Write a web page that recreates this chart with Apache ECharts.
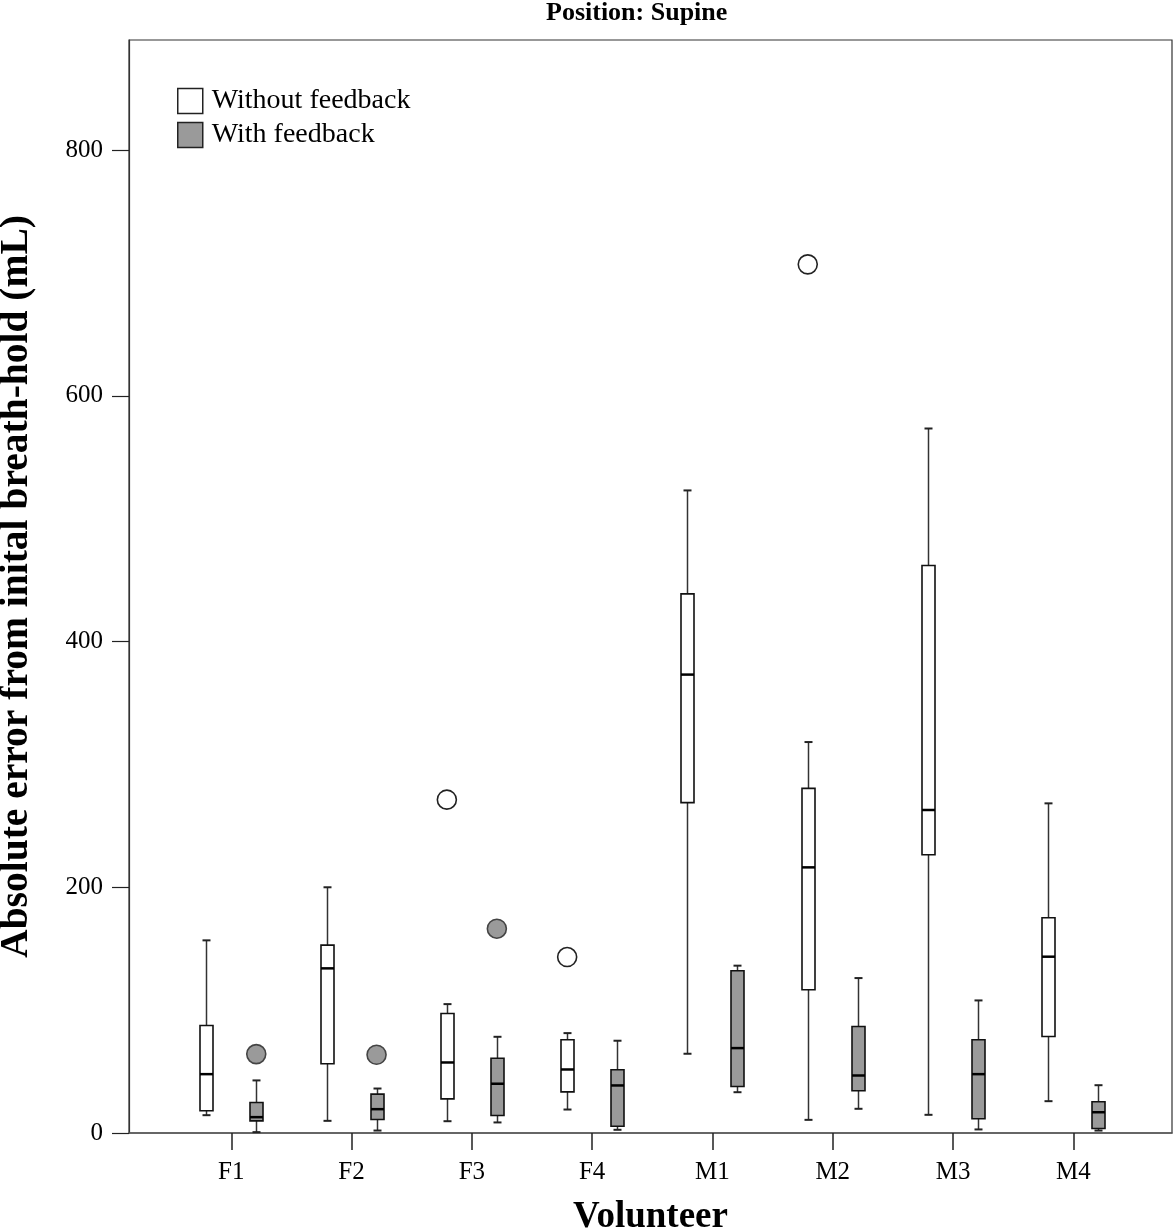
<!DOCTYPE html>
<html>
<head>
<meta charset="utf-8">
<script src="https://cdn.jsdelivr.net/npm/echarts@6/dist/echarts.min.js"></script>
<style>
html,body{margin:0;padding:0;background:#fff;}
#chart{width:1176px;height:1229px;}
</style>
</head>
<body>
<div id="chart"></div>
<script>
// ---- data ----
const categories = ['F1', 'F2', 'F3', 'F4', 'M1', 'M2', 'M3', 'M4'];
const yTicks = [0, 200, 400, 600, 800];
// [min, Q1, median, Q3, max]
const withoutFeedback = [
  [14.5, 18.1, 47.9, 87.5, 156.8],
  [9.9, 56.4, 134.0, 152.9, 200.0],
  [9.6, 27.8, 57.4, 97.3, 104.9],
  [19.1, 33.5, 51.7, 75.9, 81.3],
  [64.5, 268.9, 373.1, 438.8, 523.0],
  [10.7, 116.6, 216.2, 280.5, 318.2],
  [14.8, 226.5, 262.9, 461.9, 573.4],
  [25.9, 78.6, 143.5, 175.2, 268.3]
];
const withFeedback = [
  [0.7, 9.9, 12.9, 24.8, 42.8],
  [2.0, 11.0, 19.4, 31.6, 36.2],
  [8.6, 14.3, 40.1, 60.9, 78.3],
  [2.6, 5.5, 38.7, 51.5, 75.1],
  [33.2, 37.9, 69.1, 132.1, 136.2],
  [19.7, 34.4, 46.8, 86.7, 126.1],
  [2.9, 11.6, 47.9, 75.9, 107.9],
  [2.0, 3.7, 16.9, 25.4, 38.9]
];
// outliers: [category index, value]
const withoutOutliers = [[2, 271.3], [3, 143.2], [5, 707.0]];
const withOutliers = [[0, 64.2], [1, 63.7], [2, 166.3]];

// ---- chart ----
const FONT = '"Liberation Serif", "Times New Roman", serif';
const GRAY = '#9a9a9a';
const OFFSET = 25;

function makeRender(offset, fill) {
  return function (params, api) {
    const x = api.value(0);
    const pMin = api.coord([x, api.value(1)]);
    const pQ1 = api.coord([x, api.value(2)]);
    const pMed = api.coord([x, api.value(3)]);
    const pQ3 = api.coord([x, api.value(4)]);
    const pMax = api.coord([x, api.value(5)]);
    const cx = Math.round(pMin[0] + offset) + 0.5;
    const hw = 6.5, cw = 4;
    const wStyle = {stroke: '#333', lineWidth: 1.5};
    return {
      type: 'group',
      children: [
        {type: 'line', shape: {x1: cx, y1: pMax[1], x2: cx, y2: pQ3[1]}, style: wStyle},
        {type: 'line', shape: {x1: cx, y1: pQ1[1], x2: cx, y2: pMin[1]}, style: wStyle},
        {type: 'line', shape: {x1: cx - cw, y1: pMax[1], x2: cx + cw, y2: pMax[1]}, style: {stroke: '#222', lineWidth: 2}},
        {type: 'line', shape: {x1: cx - cw, y1: pMin[1], x2: cx + cw, y2: pMin[1]}, style: {stroke: '#222', lineWidth: 2}},
        {type: 'rect', shape: {x: cx - hw, y: pQ3[1], width: hw * 2, height: pQ1[1] - pQ3[1]},
          style: {fill: fill, stroke: '#111', lineWidth: 1.6}},
        {type: 'line', shape: {x1: cx - hw, y1: pMed[1], x2: cx + hw, y2: pMed[1]}, style: {stroke: '#000', lineWidth: 2.5}}
      ]
    };
  };
}

const chart = echarts.init(document.getElementById('chart'), null, {renderer: 'canvas'});
chart.setOption({
  animation: false,
  backgroundColor: '#fff',
  title: {
    text: 'Position: Supine',
    left: 546, top: 0, padding: 0,
    textStyle: {fontFamily: FONT, fontWeight: 'bold', fontSize: 26, color: '#000'}
  },
  legend: {
    orient: 'vertical',
    left: 177, top: 87, padding: 0,
    itemWidth: 25, itemHeight: 25, itemGap: 6,
    textStyle: {fontFamily: FONT, fontSize: 28, lineHeight: 25, color: '#000', padding: [0, 0, 0, 4]},
    data: [
      {name: 'Without feedback', icon: 'rect', itemStyle: {color: '#fff', borderColor: '#222', borderWidth: 1.5}},
      {name: 'With feedback', icon: 'rect', itemStyle: {color: GRAY, borderColor: '#222', borderWidth: 1.5}}
    ]
  },
  grid: {
    left: 129, right: 4, top: 40, bottom: 96,
    outerBoundsMode: 'none',
    containLabel: false,
    show: true, borderColor: '#333', borderWidth: 1.2, backgroundColor: '#fff'
  },
  xAxis: {
    type: 'value',
    min: -0.85, max: 7.82,
    name: 'Volunteer',
    nameLocation: 'middle',
    nameGap: 66,
    nameTextStyle: {fontFamily: FONT, fontWeight: 'bold', fontSize: 37, color: '#000'},
    splitLine: {show: false},
    axisLine: {show: true, onZero: false, lineStyle: {color: '#555', width: 1.5}},
    axisTick: {show: true, length: 17, customValues: categories.map((c, i) => i), lineStyle: {color: '#222', width: 1.5}},
    axisLabel: {
      customValues: categories.map((c, i) => i),
      formatter: v => categories[Math.round(v)] || '',
      fontFamily: FONT, fontSize: 25, color: '#000', margin: 27
    }
  },
  yAxis: {
    type: 'value',
    min: 0, max: 889.6,
    name: 'Absolute error from inital breath-hold (mL)',
    nameLocation: 'middle',
    nameGap: 92,
    nameTextStyle: {fontFamily: FONT, fontWeight: 'bold', fontSize: 39.5, color: '#000'},
    splitLine: {show: false},
    axisLine: {show: true, onZero: false, lineStyle: {color: '#333', width: 1.2}},
    axisTick: {show: true, length: 17, customValues: yTicks, lineStyle: {color: '#222', width: 1.2}},
    axisLabel: {customValues: yTicks, fontFamily: FONT, fontSize: 25, color: '#000', margin: 26}
  },
  series: [
    {
      name: 'Without feedback',
      type: 'custom',
      renderItem: makeRender(-OFFSET, '#fff'),
      itemStyle: {color: '#fff', borderColor: '#222'},
      encode: {x: 0, y: [1, 2, 3, 4, 5]},
      data: withoutFeedback.map((s, i) => [i].concat(s)),
      z: 3
    },
    {
      name: 'With feedback',
      type: 'custom',
      renderItem: makeRender(OFFSET, GRAY),
      itemStyle: {color: GRAY, borderColor: '#222'},
      encode: {x: 0, y: [1, 2, 3, 4, 5]},
      data: withFeedback.map((s, i) => [i].concat(s)),
      z: 3
    },
    {
      name: 'Without feedback',
      type: 'scatter',
      symbol: 'circle',
      symbolSize: 19,
      symbolOffset: [-OFFSET, 0],
      itemStyle: {color: '#fff', borderColor: '#222', borderWidth: 1.6, opacity: 1},
      data: withoutOutliers,
      z: 4
    },
    {
      name: 'With feedback',
      type: 'scatter',
      symbol: 'circle',
      symbolSize: 19,
      symbolOffset: [OFFSET, 0],
      itemStyle: {color: GRAY, borderColor: '#444', borderWidth: 1.6, opacity: 1},
      data: withOutliers,
      z: 4
    }
  ]
});
</script>
</body>
</html>
